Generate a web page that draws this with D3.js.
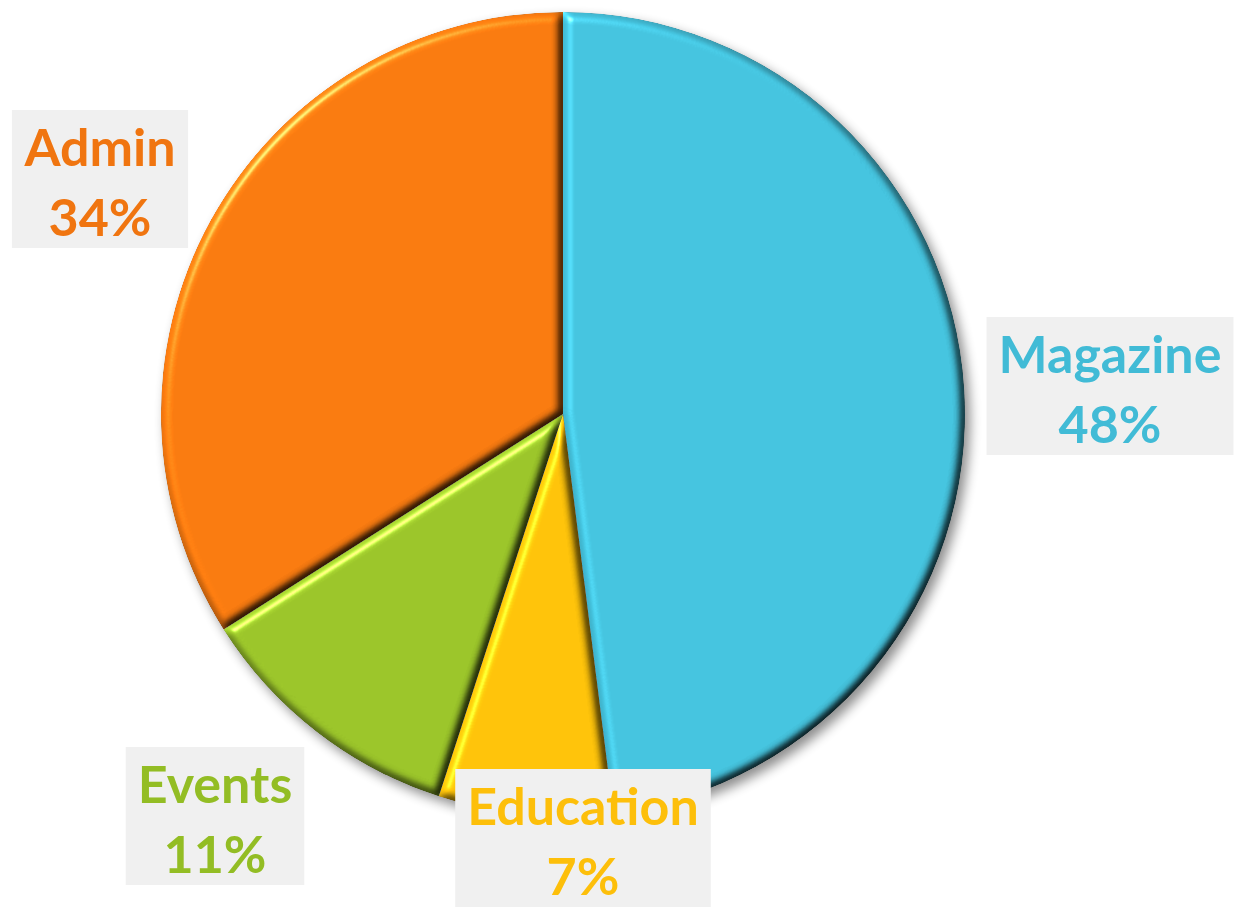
<!DOCTYPE html>
<html>
<head>
<meta charset="utf-8">
<script src="https://cdn.jsdelivr.net/npm/d3@7"></script>
<style>
  body { margin: 0; background: #fff; }
  svg { display: block; }
  .lbl { font-family: Lato, "Open Sans", sans-serif; font-weight: bold; font-size: 52px; }
</style>
</head>
<body>
<svg id="chart" width="1243" height="907"></svg>
<script>
// slices, clockwise from 12 o'clock
const categories = ['Magazine', 'Education', 'Events', 'Admin'];
const shares = [48, 7, 11, 34];
const sliceColors = ['#45c4df', '#fec30a', '#9bc52a', '#f97b10'];
const textColors = ['#41bbd6', '#fdbf0a', '#93bd24', '#f07510'];

function drawPie() {
    var svg = d3.select('#chart'),
        width = +svg.attr('width'),
        height = +svg.attr('height');

    var cx = 563, cy = 414, radius = 402;

    // where the label boxes sit (center of the box)
    var labelPos = {
        Magazine: [1110, 386],
        Education: [583, 838],
        Events: [215, 816],
        Admin: [100, 179]
    };

    var defs = svg.append('defs');

    // soft drop shadow behind the whole pie
    var sh = defs.append('filter').attr('id', 'shadow')
        .attr('color-interpolation-filters', 'sRGB')
        .attr('x', '-10%').attr('y', '-10%').attr('width', '125%').attr('height', '125%');
    sh.append('feGaussianBlur').attr('in', 'SourceAlpha').attr('stdDeviation', 6).attr('result', 'b');
    sh.append('feOffset').attr('in', 'b').attr('dx', 5).attr('dy', 6).attr('result', 'o');
    sh.append('feComponentTransfer').attr('in', 'o').attr('result', 'oa')
        .append('feFuncA').attr('type', 'linear').attr('slope', 0.45);
    var shm = sh.append('feMerge');
    shm.append('feMergeNode').attr('in', 'oa');
    shm.append('feMergeNode').attr('in', 'SourceGraphic');

    // bevel for every slice
    var bv = defs.append('filter').attr('id', 'bevel')
        .attr('color-interpolation-filters', 'sRGB')
        .attr('x', '-5%').attr('y', '-5%').attr('width', '110%').attr('height', '110%');
    bv.append('feGaussianBlur').attr('in', 'SourceAlpha').attr('stdDeviation', 5).attr('result', 'blur');
    bv.append('feDiffuseLighting').attr('in', 'blur').attr('surfaceScale', 7)
        .attr('diffuseConstant', 1).attr('lighting-color', '#fff').attr('result', 'diff')
        .append('feDistantLight').attr('azimuth', 225).attr('elevation', 60);
    bv.append('feComposite').attr('in', 'diff').attr('in2', 'SourceGraphic')
        .attr('operator', 'arithmetic').attr('k1', 1.155).attr('k2', 0).attr('k3', 0).attr('k4', 0)
        .attr('result', 'lit');
    bv.append('feSpecularLighting').attr('in', 'blur').attr('surfaceScale', 7)
        .attr('specularConstant', 0.9).attr('specularExponent', 40)
        .attr('lighting-color', '#fff').attr('result', 'spec')
        .append('feDistantLight').attr('azimuth', 225).attr('elevation', 35);
    bv.append('feComposite').attr('in', 'spec').attr('in2', 'SourceAlpha').attr('operator', 'in').attr('result', 'specIn');
    bv.append('feComposite').attr('in', 'lit').attr('in2', 'specIn')
        .attr('operator', 'arithmetic').attr('k1', 0).attr('k2', 1).attr('k3', 0.45).attr('k4', 0)
        .attr('result', 'lit2');
    bv.append('feComposite').attr('in', 'lit2').attr('in2', 'SourceAlpha').attr('operator', 'in');

    var data = categories.map(function(c, i) {
        return { name: c, value: shares[i], color: sliceColors[i], text: textColors[i] };
    });

    var pie = d3.pie().sort(null).value(function(d) { return d.value; });
    var arc = d3.arc().innerRadius(0).outerRadius(radius);

    var g = svg.append('g')
        .attr('transform', 'translate(' + cx + ',' + cy + ')')
        .attr('filter', 'url(#shadow)');

    g.selectAll('path')
        .data(pie(data))
        .enter().append('path')
        .attr('d', arc)
        .attr('fill', function(d) { return d.data.color; })
        .attr('filter', 'url(#bevel)');

    // label boxes
    var lg = svg.append('g');
    data.forEach(function(d) {
        var p = labelPos[d.name];
        var box = lg.append('g').attr('transform', 'translate(' + p[0] + ',' + p[1] + ')');
        var rect = box.append('rect').attr('fill', '#f0f0f0');
        var t = box.append('text')
            .attr('class', 'lbl')
            .attr('text-anchor', 'middle')
            .attr('fill', d.text);
        t.append('tspan').attr('x', 0).attr('y', -13).text(d.name);
        t.append('tspan').attr('x', 0).attr('y', 57).text(d.value + '%');
        var bb = t.node().getBBox();
        var w = bb.width + 24, h = 138;
        rect.attr('x', -w / 2).attr('y', -h / 2).attr('width', w).attr('height', h);
    });
}

drawPie();
</script>
</body>
</html>
